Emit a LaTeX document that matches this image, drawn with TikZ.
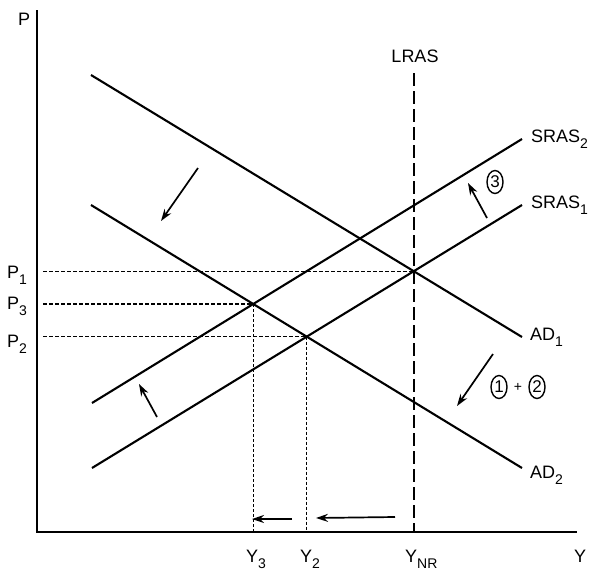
\documentclass[tikz,border=0pt]{standalone}
\usepackage{fontspec}
\setmainfont{Liberation Sans}
\usetikzlibrary{arrows.meta,shapes.geometric}
\newcommand\lowsub[1]{\raisebox{-6pt}{\fontsize{14}{14}\selectfont #1}}
\begin{document}
\begin{tikzpicture}[x=1pt,y=-1pt,
  curve/.style={line width=2.1pt},
  axis/.style={line width=2.1pt},
  guide/.style={line width=1.3pt, dash pattern=on 4pt off 2pt},
  vguide/.style={line width=1.3pt, dash pattern=on 3pt off 2pt},
  lrasline/.style={line width=2.3pt, dash pattern=on 13pt off 5pt},
  lab/.style={font=\fontsize{18}{20}\selectfont, inner sep=0pt},
  shiftarrow/.style={line width=1.7pt, -{Stealth[length=12pt,width=8pt]}},
  circnum/.style={draw, ellipse, line width=1.4pt, inner sep=0pt, minimum width=16pt, minimum height=23pt, font=\fontsize{17}{17}\selectfont}]
\useasboundingbox (0,0) rectangle (592,571);

% axes
\coordinate (O) at (37,532);
\coordinate (ytop) at (37,10);
\coordinate (xend) at (577,532);
\draw[axis] (ytop) -- (O) -- (xend);

% curves
\coordinate (ad1a) at (91,75);   \coordinate (ad1b) at (522,337);
\coordinate (ad2a) at (91,205);  \coordinate (ad2b) at (522,468);
\coordinate (s1a) at (92,468);   \coordinate (s1b) at (522,205);
\coordinate (s2a) at (92,403);   \coordinate (s2b) at (522,139);
\draw[curve] (ad1a) -- (ad1b);
\draw[curve] (ad2a) -- (ad2b);
\draw[curve] (s1a) -- (s1b);
\draw[curve] (s2a) -- (s2b);

% equilibria
\coordinate (P1) at (intersection of ad1a--ad1b and s1a--s1b);
\coordinate (P2) at (intersection of ad2a--ad2b and s1a--s1b);
\coordinate (P3) at (intersection of ad2a--ad2b and s2a--s2b);

% LRAS
\coordinate (lrtop) at (0,73);
\draw[lrasline] (P1 |- lrtop) -- (P1 |- O);

% guides
\coordinate (gl) at (43,0);
\draw[guide] (P1 -| gl) -- (P1);
\draw[guide] (P3 -| gl) -- (P3);
\draw[guide] (P2 -| gl) -- (P2);
\draw[vguide] (P3) -- (P3 |- O);
\draw[vguide] (P2) -- (P2 |- O);

% labels
\node[lab, anchor=base west] (lP) at (18,25) {P};
\node[lab, anchor=base west] (lP1) at (7,278) {P\lowsub{1}};
\node[lab, anchor=base west] (lP3) at (7,309) {P\lowsub{3}};
\node[lab, anchor=base west] (lP2) at (7,347) {P\lowsub{2}};
\node[lab, anchor=base] (lLRAS) at (415,62) {LRAS};
\node[lab, anchor=base west] (lS2) at (531,142) {SRAS\lowsub{2}};
\node[lab, anchor=base west] (lS1) at (531,208) {SRAS\lowsub{1}};
\node[lab, anchor=base west] (lA1) at (530,340) {AD\lowsub{1}};
\node[lab, anchor=base west] (lA2) at (530,478) {AD\lowsub{2}};
\node[lab, anchor=base west] (lY3) at (246,562) {Y\lowsub{3}};
\node[lab, anchor=base west] (lY2) at (300,562) {Y\lowsub{2}};
\node[lab, anchor=base west] (lYN) at (405,562) {Y\lowsub{NR}};
\node[lab, anchor=base west] (lY) at (574,562) {Y};

% circled numbers
\node[circnum] (c3) at (495,182) {3};
\node[circnum] (c1) at (499,387) {1};
\node[lab, font=\fontsize{14}{14}\selectfont] (plus) at (518,387) {+};
\node[circnum] (c2) at (537,387) {2};

% shift arrows
\coordinate (a1s) at (487,218); \coordinate (a1e) at (468,183);
\coordinate (a2s) at (493,354); \coordinate (a2e) at (457,406);
\coordinate (a3s) at (198,168); \coordinate (a3e) at (161,221);
\coordinate (a4s) at (157,417); \coordinate (a4e) at (139,384);
\coordinate (a5s) at (292,519); \coordinate (a5e) at (252,519);
\coordinate (a6s) at (395,517); \coordinate (a6e) at (316,518);
\draw[shiftarrow] (a1s) -- (a1e);
\draw[shiftarrow] (a2s) -- (a2e);
\draw[shiftarrow] (a3s) -- (a3e);
\draw[shiftarrow] (a4s) -- (a4e);
\draw[shiftarrow] (a5s) -- (a5e);
\draw[shiftarrow] (a6s) -- (a6e);
\end{tikzpicture}
\end{document}
